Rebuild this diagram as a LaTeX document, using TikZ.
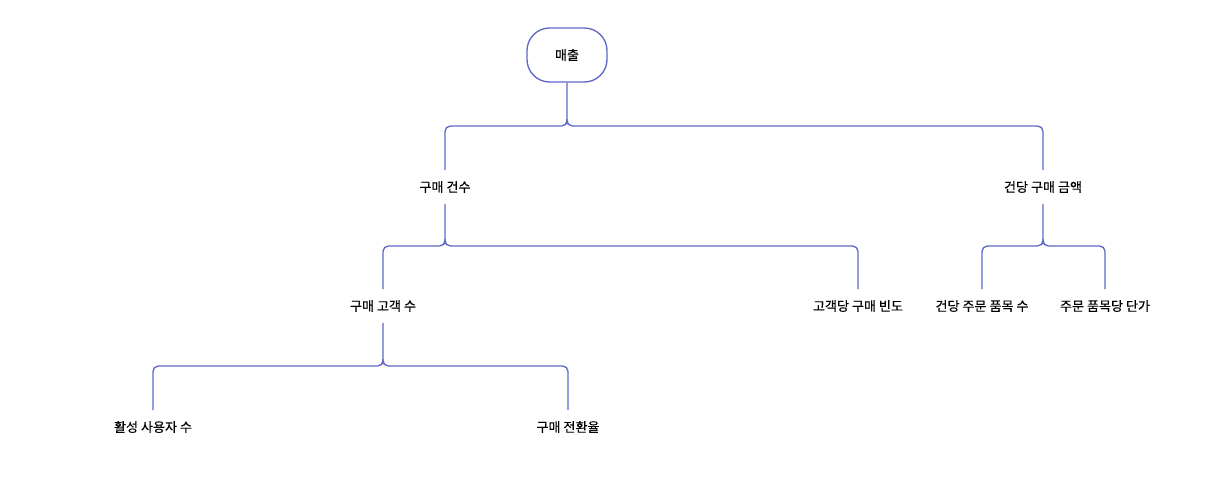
\documentclass[tikz,border=0pt]{standalone}
\usepackage{fontspec}
\newfontfamily\kr[FakeBold=0.35]{Noto Sans CJK KR}
\definecolor{edgeblue}{HTML}{5F67C8}
\begin{document}
\begin{tikzpicture}[x=0.75pt,y=-0.75pt,
  lbl/.style={font=\kr\fontsize{9.8}{12}\selectfont, text=black, minimum height=25pt, inner sep=1pt, anchor=center},
  rootbox/.style={draw=edgeblue, line width=1pt, rounded corners=17pt, minimum width=60pt, minimum height=40.5pt, font=\kr\fontsize{9.8}{12}\selectfont, inner sep=0pt},
  link/.style={draw=edgeblue, line width=1pt, rounded corners=4pt}]
\useasboundingbox (0,0) rectangle (1211,483);
\node[rootbox] (root) at (567,55) {매출};
\node[lbl] (cnt) at (445,187) {구매 건수};
\node[lbl] (amt) at (1043,187) {건당 구매 금액};
\node[lbl] (cust) at (383,306) {구매 고객 수};
\node[lbl] (freq) at (858,306) {고객당 구매 빈도};
\node[lbl] (items) at (982,306) {건당 주문 품목 수};
\node[lbl] (price) at (1105,306) {주문 품목당 단가};
\node[lbl] (active) at (153,427) {활성 사용자 수};
\node[lbl] (conv) at (568,427) {구매 전환율};
\coordinate (j0) at (567,119);
\coordinate (j1) at (445,239);
\coordinate (j2) at (1043,239);
\coordinate (j3) at (383,359);
\path[link] (root.south) -- (j0) -- (567,126) -| (cnt.north);
\path[link] (j0) -- (567,126) -| (amt.north);
\path[link] (cnt.south) -- (j1) -- (445,246) -| (cust.north);
\path[link] (j1) -- (445,246) -| (freq.north);
\path[link] (amt.south) -- (j2) -- (1043,246) -| (items.north);
\path[link] (j2) -- (1043,246) -| (price.north);
\path[link] (cust.south) -- (j3) -- (383,366) -| (active.north);
\path[link] (j3) -- (383,366) -| (conv.north);
\end{tikzpicture}
\end{document}
